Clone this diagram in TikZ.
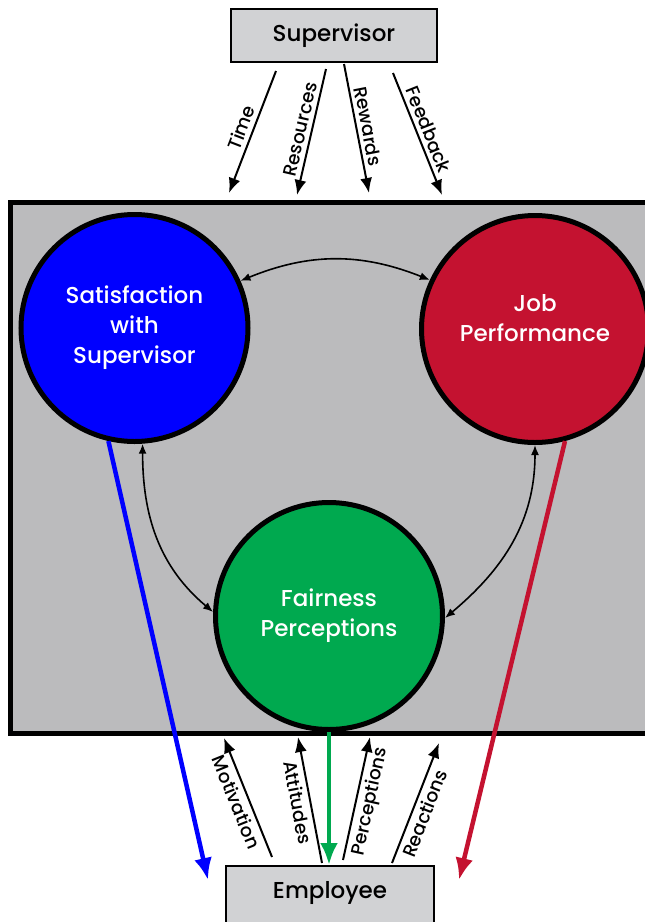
\documentclass[tikz,border=0pt]{standalone}
\usepackage{fontspec}
\setmainfont{Poppins}[UprightFont=* Medium]
\usetikzlibrary{arrows.meta, positioning, calc}
\definecolor{panelgray}{RGB}{187,187,189}
\definecolor{boxgray}{RGB}{209,210,212}
\definecolor{satblue}{RGB}{0,0,255}
\definecolor{jobred}{RGB}{196,18,48}
\definecolor{fairgreen}{RGB}{0,169,79}
\tikzstyle{box} = [rectangle, draw, line width=2pt, fill=boxgray, minimum width=206pt, minimum height=53pt, font=\fontsize{23}{27}\selectfont]
\tikzstyle{panel} = [rectangle, draw, line width=5pt, fill=panelgray, minimum width=649pt, minimum height=531pt]
\tikzstyle{circ} = [circle, draw, line width=5pt, minimum size=227pt, text=white, align=center, font=\fontsize{23}{30}\selectfont]
\tikzstyle{line} = [draw, line width=2pt, -{Latex[length=15pt,width=12pt]}]
\tikzstyle{link} = [draw, line width=1.6pt, {Latex[length=10pt,width=8pt]}-{Latex[length=10pt,width=8pt]}]
\tikzstyle{bigline} = [draw, line width=4.5pt, -{Latex[length=22pt,width=18pt]}]
\tikzstyle{lbl} = [midway, sloped, inner sep=4pt, font=\fontsize{18.5}{20}\selectfont]

\begin{document}
\begin{tikzpicture}[x=1pt, y=1pt]
    \useasboundingbox (0,0) rectangle (645,-922);
    \node [panel] (panel) at (335,-467.5) {};
    \node [box] (sup) at (334,-35.5) {Supervisor};
    \node [box, minimum width=208pt, minimum height=66pt, text depth=18pt] (emp) at (330,-899) {Employee};
    \node [circ, fill=satblue] (sat) at (134.5,-328) {Satisfaction\\with\\Supervisor};
    \node [circ, fill=jobred, text depth=22pt] (job) at (535,-329) {Job\\Performance};
    \node [circ, fill=fairgreen] (fair) at (329,-616) {Fairness\\Perceptions};

    % what the supervisor hands down
    \coordinate (time s) at (276,-71);   \coordinate (time e) at (229,-193);
    \coordinate (res s) at (326,-69);    \coordinate (res e) at (297,-195);
    \coordinate (rew s) at (344,-64);    \coordinate (rew e) at (369,-193);
    \coordinate (feed s) at (393,-73);   \coordinate (feed e) at (442,-195);
    \path [line] (time s) -- node[lbl, above] {Time} (time e);
    \path [line] (res s) -- node[lbl, above] {Resources} (res e);
    \path [line] (rew s) -- node[lbl, above] {Rewards} (rew e);
    \path [line] (feed s) -- node[lbl, above] {Feedback} (feed e);

    % what the employee sends up
    \coordinate (mot s) at (272,-857);   \coordinate (mot e) at (224,-738);
    \coordinate (att s) at (322,-863);   \coordinate (att e) at (298,-737);
    \coordinate (per s) at (343,-860);   \coordinate (per e) at (370,-737);
    \coordinate (rea s) at (392,-863);   \coordinate (rea e) at (439,-743);
    \path [line] (mot s) -- node[lbl, below] {Motivation} (mot e);
    \path [line] (att s) -- node[lbl, below] {Attitudes} (att e);
    \path [line] (per s) -- node[lbl, below] {Perceptions} (per e);
    \path [line] (rea s) -- node[lbl, below, pos=0.45] {Reactions} (rea e);

    % links between the three circles
    \path [link] (sat.24) to[bend left=22] (job.155);
    \path [link] (sat.-86) to[out=-90, in=140] (fair.178);
    \path [link] (job.-90) to[out=-90, in=40] (fair.-1);

    % outcomes for the employee
    \coordinate (sat end) at (208,-880);
    \coordinate (job end) at (459,-880);
    \path [bigline, satblue] (sat.-103) -- (sat end);
    \path [bigline, jobred] (job.-75) -- (job end);
    \path [bigline, fairgreen] (fair.south) -- (fair.south |- emp.north);
\end{tikzpicture}
\end{document}
